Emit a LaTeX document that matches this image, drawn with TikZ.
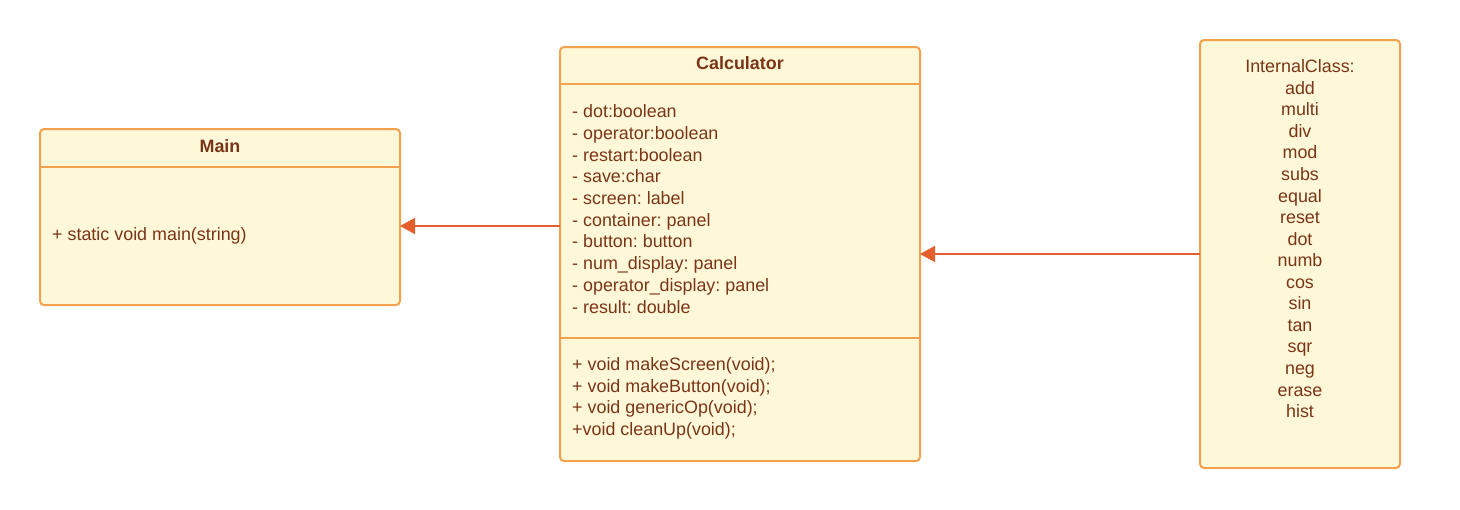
\documentclass[tikz,border=0pt]{standalone}
\usepackage{fontspec}
\setmainfont{Liberation Sans}
\usetikzlibrary{arrows.meta}
\definecolor{boxfill}{HTML}{FFF8D8}
\definecolor{boxline}{HTML}{F2A24E}
\definecolor{txtcol}{HTML}{7A3519}
\definecolor{arrcol}{HTML}{E35F2E}
\frenchspacing
\tikzset{
  umlbox/.style={draw=boxline, fill=boxfill, line width=2pt, rounded corners=4pt, inner sep=0pt, outer sep=0pt},
  sepline/.style={draw=boxline, line width=2pt},
  txt/.style={text=txtcol, font=\fontsize{17.9}{21.7}\selectfont, inner sep=0pt},
  ttl/.style={txt, font=\fontsize{17.9}{21.7}\selectfont\bfseries},
  arr/.style={draw=arrcol, line width=2pt, -{Triangle[length=15pt,width=16pt]}}
}
\begin{document}
\begin{tikzpicture}[x=1pt,y=-1pt]
\useasboundingbox[fill=white] (0,0) rectangle (1460,509);
% boxes
\node[umlbox, minimum width=360pt, minimum height=176pt] (main) at (220,217) {};
\node[umlbox, minimum width=360pt, minimum height=414pt] (calc) at (740,254) {};
\node[umlbox, minimum width=200pt, minimum height=428pt] (intl) at (1300,254) {};
% compartments
\draw[sepline] ([yshift=-38pt]main.north west) -- ([yshift=-38pt]main.north east);
\draw[sepline] ([yshift=-37pt]calc.north west) -- ([yshift=-37pt]calc.north east);
\draw[sepline] ([yshift=-291pt]calc.north west) -- ([yshift=-291pt]calc.north east);
% titles
\node[ttl, anchor=base] (maint) at (220,152.5) {Main};
\node[ttl, anchor=base] (calct) at (740,69.5) {Calculator};
% main text
\node[txt, anchor=base west] (mainm) at (52,240) {+ static void main(string)};
% calculator attributes
\foreach \t [count=\i] in {{- dot:boolean},{- operator:boolean},{- restart:boolean},{- save:char},{- screen: label},{- container: panel},{- button: button},{- num\_display: panel},{- operator\_display: panel},{- result: double}}
  \node[txt, anchor=base west] (ca\i) at (572,{117.7+21.7*(\i-1)}) {\t};
% calculator methods
\foreach \t [count=\i] in {{+ void makeScreen(void);},{+ void makeButton(void);},{+ void genericOp(void);},{+void cleanUp(void);}}
  \node[txt, anchor=base west] (cm\i) at (572,{370.5+21.7*(\i-1)}) {\t};
% internal class
\foreach \t [count=\i] in {InternalClass:,add,multi,div,mod,subs,equal,reset,dot,numb,cos,sin,tan,sqr,neg,erase,hist}
  \node[txt, anchor=base] (ic\i) at (1300,{72.7+21.56*(\i-1)}) {\t};
% connectors
\draw[arr] ([yshift=28pt]calc.west) -- ([yshift=28pt]calc.west -| main.east);
\draw[arr] (intl.west) -- (calc.east);
\end{tikzpicture}
\end{document}
